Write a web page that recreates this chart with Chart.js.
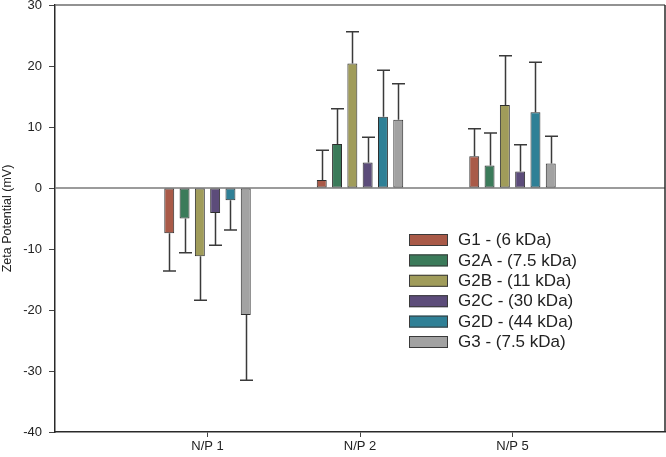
<!DOCTYPE html>
<html>
<head>
<meta charset="utf-8">
<script src="https://cdn.jsdelivr.net/npm/chart.js@4"></script>
<style>
  html, body { margin: 0; padding: 0; background: #ffffff; }
  #wrap { width: 666px; height: 457px; position: relative; }
</style>
</head>
<body>
<div id="wrap"><canvas id="c"></canvas></div>
<script>
// Data
const categories = ['', 'N/P 1', 'N/P 2', 'N/P 5', ''];
const seriesNames = ['G1 - (6 kDa)', 'G2A - (7.5 kDa)', 'G2B - (11 kDa)', 'G2C - (30 kDa)', 'G2D - (44 kDa)', 'G3 - (7.5 kDa)'];
const g1 = [null, -7.4, 1.3, 5.2, null];
const g2a = [null, -5.0, 7.2, 3.7, null];
const g2b = [null, -11.2, 20.4, 13.6, null];
const g2c = [null, -4.1, 4.2, 2.7, null];
const g2d = [null, -2.0, 11.7, 12.4, null];
const g3 = [null, -20.8, 11.2, 4.0, null];
const g1Err = [null, 6.2, 4.9, 4.5, null];
const g2aErr = [null, 5.6, 5.8, 5.3, null];
const g2bErr = [null, 7.2, 5.2, 8.1, null];
const g2cErr = [null, 5.3, 4.1, 4.4, null];
const g2dErr = [null, 4.9, 7.6, 8.2, null];
const g3Err = [null, 10.7, 5.9, 4.5, null];
const yTicks = [-40, -30, -20, -10, 0, 10, 20, 30];

const seriesValues = [g1, g2a, g2b, g2c, g2d, g3];
const seriesErrors = [g1Err, g2aErr, g2bErr, g2cErr, g2dErr, g3Err];
const colors = ['#a95a48', '#3b7b5a', '#a09c5a', '#5c4c7a', '#2f8096', '#a2a2a2'];

const datasets = seriesNames.map((name, i) => ({
  label: name,
  data: seriesValues[i],
  errors: seriesErrors[i],
  backgroundColor: colors[i],
  borderColor: '#2e2e2e',
  borderWidth: 1,
  borderSkipped: false,
  categoryPercentage: 0.602,
  barPercentage: 0.65
}));

const framePlugin = {
  id: 'frame',
  beforeDatasetsDraw(chart) {
    const { ctx, chartArea: a, scales } = chart;
    const y0 = scales.y.getPixelForValue(0);
    ctx.save();
    ctx.strokeStyle = '#7a7a7a';
    ctx.lineWidth = 1.5;
    ctx.beginPath();
    ctx.moveTo(a.left, y0);
    ctx.lineTo(a.right, y0);
    ctx.stroke();
    // top & right frame
    ctx.strokeStyle = '#6e6e6e';
    ctx.lineWidth = 1.5;
    ctx.beginPath();
    ctx.moveTo(a.left, a.top);
    ctx.lineTo(a.right, a.top);
    ctx.stroke();
    ctx.strokeStyle = '#2a2a2a';
    ctx.beginPath();
    ctx.moveTo(a.right, a.top);
    ctx.lineTo(a.right, a.bottom);
    ctx.stroke();
    ctx.restore();
  },
  afterDatasetsDraw(chart) {
    const { ctx, scales } = chart;
    ctx.save();
    ctx.strokeStyle = '#3a3a3a';
    ctx.lineWidth = 1.5;
    chart.data.datasets.forEach((ds, di) => {
      const meta = chart.getDatasetMeta(di);
      meta.data.forEach((el, j) => {
        const v = ds.data[j];
        const e = ds.errors[j];
        if (v === null || e === null) return;
        const sign = v >= 0 ? 1 : -1;
        const yA = scales.y.getPixelForValue(v);
        const yB = scales.y.getPixelForValue(v + sign * e);
        const x = Math.round(el.x) + 0.5;
        ctx.beginPath();
        ctx.moveTo(x, yA);
        ctx.lineTo(x, yB);
        ctx.moveTo(x - 6.5, yB);
        ctx.lineTo(x + 6.5, yB);
        ctx.stroke();
      });
    });
    // legend
    const lx = 409, ly = 234, pitch = 20.4;
    ctx.font = '17px "Liberation Sans", Arial, sans-serif';
    ctx.textBaseline = 'middle';
    ctx.textAlign = 'left';
    chart.data.datasets.forEach((ds, i) => {
      const top = ly + i * pitch;
      ctx.fillStyle = ds.backgroundColor;
      ctx.fillRect(lx, top, 39, 12);
      ctx.strokeStyle = '#3a3a3a';
      ctx.lineWidth = 1;
      ctx.strokeRect(lx + 0.5, top + 0.5, 38, 11);
      ctx.fillStyle = '#222222';
      ctx.fillText(ds.label, 458, top + 6.5);
    });
    ctx.restore();
  }
};

new Chart(document.getElementById('c'), {
  type: 'bar',
  data: { labels: categories, datasets },
  options: {
    responsive: true,
    maintainAspectRatio: false,
    animation: false,
    layout: { padding: { top: 5, right: 1, left: 0, bottom: 0 } },
    plugins: { legend: { display: false }, tooltip: { enabled: false } },
    scales: {
      x: {
        offset: false,
        grid: {
          display: true,
          offset: false,
          drawOnChartArea: false,
          drawTicks: true,
          tickLength: 5,
          color: (c) => (c.index === 0 || c.index === categories.length - 1) ? 'rgba(0,0,0,0)' : '#444'
        },
        border: { display: true, color: '#2a2a2a', width: 1.5 },
        ticks: {
          color: '#222222',
          font: { family: '"Liberation Sans", Arial, sans-serif', size: 13 },
          padding: 2,
          maxRotation: 0,
          autoSkip: false
        },
        afterFit(s) { s.height = 25; s.paddingLeft = 0; s.paddingRight = 0; }
      },
      y: {
        min: -40,
        max: 30,
        afterBuildTicks(s) { s.ticks = yTicks.map(v => ({ value: v })); },
        grid: {
          display: true,
          drawOnChartArea: false,
          drawTicks: true,
          tickLength: 6,
          color: '#444'
        },
        border: { display: true, color: '#2a2a2a', width: 1.5 },
        ticks: {
          color: '#222222',
          font: { family: '"Liberation Sans", Arial, sans-serif', size: 13 },
          padding: 7
        },
        title: {
          display: true,
          text: 'Zeta Potential (mV)',
          color: '#222222',
          font: { family: '"Liberation Sans", Arial, sans-serif', size: 12.5 },
          padding: { top: 0, bottom: 2 }
        },
        afterFit(s) { s.width = 55; s.paddingTop = 0; s.paddingBottom = 0; }
      }
    }
  },
  plugins: [framePlugin]
});
</script>
</body>
</html>
